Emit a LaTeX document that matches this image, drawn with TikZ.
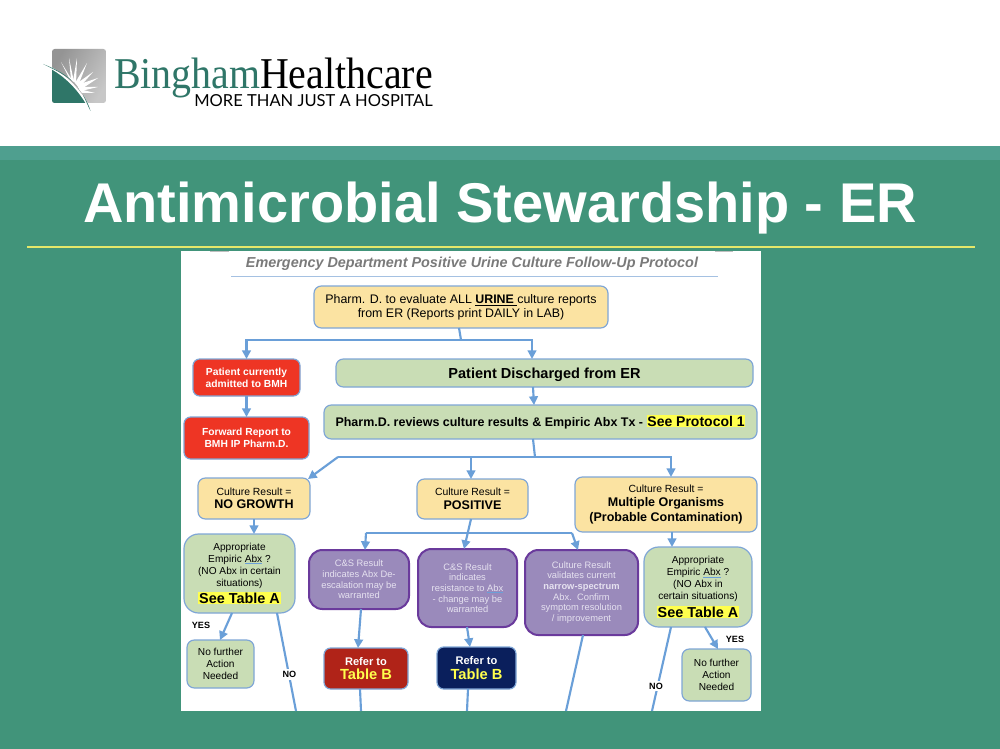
\documentclass[tikz,border=0pt]{standalone}
\usepackage{fontspec}
\setmainfont{Liberation Sans}
\newfontfamily\logoserif{Liberation Serif}
\newfontfamily\logosans{Lato}
\usetikzlibrary{arrows.meta}
\definecolor{bggreen}{HTML}{41947A}
\definecolor{bandgreen}{HTML}{4F9F8F}
\definecolor{linegold}{HTML}{E4E86A}
\definecolor{lineblue}{HTML}{6A9FD8}
\definecolor{edgeblue}{HTML}{7FA6D6}
\definecolor{tan}{HTML}{FBE3A2}
\definecolor{sage}{HTML}{C9DDB5}
\definecolor{redbox}{HTML}{EE3524}
\definecolor{purplefill}{HTML}{9A8ABB}
\definecolor{purpleedge}{HTML}{6A3A9C}
\definecolor{purpletxt}{HTML}{E6E2F0}
\definecolor{darkred}{HTML}{B02318}
\definecolor{navy}{HTML}{0A1F5C}
\definecolor{hl}{HTML}{FFFF4D}
\definecolor{logoteal}{HTML}{2F7668}
\newlength\ulwidth
\newcommand\fs[1]{\fontsize{#1}{\dimexpr#1pt*12/10\relax}\selectfont}
\newcommand\hlt[1]{{\setlength{\fboxsep}{0.6pt}\colorbox{hl}{#1}}}
\newcommand\blueul[1]{\settowidth{\ulwidth}{#1}\rlap{\textcolor{lineblue}{\rule[-1.6pt]{\ulwidth}{0.8pt}}}#1}
\newcommand\bx[7]{\node[#6,minimum width={(#4-#2)*0.75pt},minimum height={(#5-#3)*0.75pt}] (#1) at ({(#2+#4)/2},{(#3+#5)/2}) {#7};}
\tikzset{
  x=0.75pt,y=-0.75pt,
  boxbase/.style={draw=edgeblue,line width=0.9pt,rounded corners=5.5pt,inner sep=0pt,outer sep=0pt,align=center,text=black},
  tanbox/.style={boxbase,fill=tan},
  sagebox/.style={boxbase,fill=sage},
  sageround/.style={boxbase,fill=sage,rounded corners=11pt,font=\fs{7.6}},
  redb/.style={boxbase,fill=redbox,text=white,font=\fs{7.7}\bfseries,rounded corners=5pt},
  purp/.style={boxbase,fill=purplefill,draw=purpleedge,line width=1.5pt,rounded corners=10pt,text=purpletxt,font=\fontsize{7}{8}\selectfont},
  refbox/.style={boxbase,rounded corners=5pt,text=white,font=\fs{8.3}\bfseries},
  conn/.style={draw=lineblue,line width=1.6pt},
  arr/.style={conn,-{Triangle[length=6.5pt,width=6.5pt]}},
  lab/.style={font=\fs{6.8}\bfseries,text=black,fill=white,inner sep=1.5pt},
}
\begin{document}
\begin{tikzpicture}
\useasboundingbox (0,0) rectangle (1000,749);
% slide background
\fill[white] (0,0) rectangle (1000,146);
\fill[bandgreen] (0,146) rectangle (1000,160);
\fill[bggreen] (0,160) rectangle (1000,749);
\node[anchor=base,text=white,font=\fs{42}\bfseries,inner sep=0pt] (title) at (500,222) {Antimicrobial Stewardship - ER};
\draw[linegold,line width=1.3pt] (27,247) -- (975,247);
% logo
\begin{scope}
\clip[rounded corners=2pt] (52,49) rectangle (106,103);
\shade[left color=black!42,right color=black!22,shading angle=60] (52,49) rectangle (106,103);
\fill[logoteal] (40,60) .. controls (62,72) and (80,88) .. (92,115) -- (40,115) -- cycle;
\end{scope}
\foreach \ex/\ey/\ax/\ay/\bx/\by in {61/62/69/78/72/80,69/58/71/80/74/82,77/58/73/81/76/84,87/63/75/83/78/86,93/72/76/84/79/88,98/78/77/85/80/90,98/87/78/87/81/91,95/93/79/89/82/93}
  \fill[white] (\ex,\ey) -- (\ax,\ay) -- (\bx,\by) -- cycle;
\draw[white,line width=1.4pt] (43,64) .. controls (62,72) and (80,88) .. (92,113);
\fill[logoteal] (43,64) .. controls (58,70) and (66,75) .. (72,81) .. controls (66,76) and (58,71) .. cycle;
\fill[logoteal] (83,95) .. controls (87,101) and (89,106) .. (90.5,111) .. controls (88,106) and (86,101) .. cycle;
\node[anchor=base west,inner sep=0pt,font=\logoserif\fs{33},xscale=0.906,transform shape,text=logoteal] (lgone) at (114,89) {Bingham};
\node[anchor=base east,inner sep=0pt,font=\logoserif\fs{33},xscale=0.906,transform shape,text=black] (lgtwo) at (433,89) {Healthcare};
\node[anchor=base east,inner sep=0pt,font=\logosans\fs{12.4}] (lgthree) at (433,107) {MORE THAN JUST A HOSPITAL};
% panel
\fill[white] (181,251) rectangle (761,711);
\fill[black!25] (210,251) rectangle (229,252);
\fill[black!25] (715,251) rectangle (733,252);
\node[font=\fs{10.8}\bfseries\itshape,text=black!52,inner sep=0pt] (head) at (472,263.5) {Emergency Department Positive Urine Culture Follow-Up Protocol};
\draw[edgeblue!70,line width=1pt] (231,276.5) -- (718,276.5);
% boxes
\bx{top}{314}{286}{608}{328}{tanbox,font=\fs{9.3}}{Pharm. D. to evaluate ALL \textbf{\underline{URINE }}culture reports\\[-0.4pt]from ER (Reports print DAILY in LAB)}
\bx{redone}{193}{359}{300}{396}{redb}{Patient currently\\admitted to BMH}
\bx{redtwo}{184}{417}{309}{459}{redb}{Forward Report to\\BMH IP Pharm.D.}
\bx{disch}{336}{359}{753}{387}{sagebox,font=\fs{10.9}\bfseries,text height=7.5pt,text depth=0pt}{Patient Discharged from ER}
\bx{rev}{324}{405}{757}{439}{sagebox,font=\fs{9.35}\bfseries}{Pharm.D. reviews culture results \& Empiric Abx Tx - \hlt{\fs{10.5}See Protocol 1}}
\bx{nogrowth}{198}{478}{310}{519}{tanbox,font=\fs{7.8}}{Culture Result =\\[0.8pt]\fs{9.4}\bfseries NO GROWTH}
\bx{positive}{417}{479}{528}{519}{tanbox,font=\fs{7.8}}{Culture Result =\\[0.8pt]\fs{9.4}\bfseries POSITIVE}
\bx{multi}{575}{477}{757}{532}{tanbox,font=\fs{9.4}}{\fs{7.8}Culture Result =\\[-0.4pt]\bfseries Multiple Organisms\\[-0.4pt]\bfseries (Probable Contamination)}
\bx{applef}{184}{534}{295}{613}{sageround}{Appropriate\\[-0.1pt]Empiric \blueul{Abx} ?\\[-0.1pt](NO Abx in certain\\[-0.1pt]situations)\\[1.5pt]\hlt{\fs{10.8}\bfseries See Table A}}
\bx{csone}{309}{550}{409}{609}{purp}{C\&S Result\\indicates Abx De-\\escalation may be\\warranted}
\bx{cstwo}{418}{549}{517}{627}{purp}{C\&S Result\\indicates\\resistance to \blueul{Abx}\\- change may be\\warranted}
\bx{valid}{525}{550}{638}{635}{purp}{Culture Result\\validates current\\\textbf{narrow-spectrum}\\Abx.\ \ Confirm\\symptom resolution\\/ improvement}
\bx{apprt}{644}{547}{752}{627}{sageround}{Appropriate\\[0pt]Empiric \blueul{Abx} ?\\[0pt](NO Abx in\\[0pt]certain situations)\\[2pt]\hlt{\fs{10.8}\bfseries See Table A}}
\bx{nflef}{187}{640}{254}{688}{sagebox,font=\fs{7.6}}{No further\\Action\\Needed}
\bx{nfrt}{682}{649}{751}{701}{sagebox,font=\fs{7.6}}{No further\\Action\\Needed}
\bx{refone}{324}{648}{408}{689}{refbox,fill=darkred}{Refer to\\[1.2pt]\fs{11}\textcolor{hl}{Table B}}
\bx{reftwo}{437}{647}{516}{689}{refbox,fill=navy}{Refer to\\[1.2pt]\fs{11}\textcolor{hl}{Table B}}
% junctions and free ends
\coordinate (topout) at (459,328);
\coordinate (j1) at (461,340);
\coordinate (dischin) at (532,359);
\coordinate (dischout) at (533,387);
\coordinate (revin) at (534,405);
\coordinate (revout) at (533,439);
\coordinate (j2) at (535,457);
\coordinate (j2l) at (338,457);
\coordinate (ngin) at (308,479);
\coordinate (posin) at (471,479);
\coordinate (multin) at (671,477);
\coordinate (posout) at (471,519);
\coordinate (j3l) at (366,533);
\coordinate (j3r) at (572,533);
\coordinate (cs1in) at (365,550);
\coordinate (cs2in) at (464,549);
\coordinate (valin) at (578,550);
\coordinate (cs1out) at (361,609);
\coordinate (ref1in) at (358,648);
\coordinate (cs2out) at (467,627);
\coordinate (ref2in) at (470,647);
\coordinate (ref1out) at (360,689);
\coordinate (e1) at (361,711);
\coordinate (ref2out) at (468,689);
\coordinate (e2) at (467,711);
\coordinate (valout) at (583,635);
\coordinate (e3) at (566,711);
\coordinate (alyes) at (232,613);
\coordinate (nflin) at (220,640);
\coordinate (alno) at (277,613);
\coordinate (e4) at (296,711);
\coordinate (aryes) at (705,627);
\coordinate (nfrin) at (718,649);
\coordinate (arno) at (671,627);
\coordinate (e5) at (652,711);
\coordinate (ngout) at (254,519);
\coordinate (alin) at (254,534);
\coordinate (multout) at (672,532);
\coordinate (arin) at (672,547);
% connectors
\draw[conn] (topout) -- (j1);
\draw[arr] (j1) -| (redone.north);
\draw[arr] (j1) -| (dischin);
\draw[arr] (redone) -- (redtwo);
\draw[arr] (dischout) -- (revin);
\draw[conn] (revout) -- (j2);
\draw[conn] (j2) -- (j2l);
\draw[arr] (j2l) -- (ngin);
\draw[arr] (posin |- j2) -- (posin);
\draw[arr] (j2) -| (multin);
\draw[arr] (ngout) -- (alin);
\draw[arr] (posout) -- (cs2in);
\draw[conn] (j3l) -- (j3r);
\draw[arr] (j3l) -- (cs1in);
\draw[arr] (j3r) -- (valin);
\draw[arr] (cs1out) -- (ref1in);
\draw[arr] (cs2out) -- (ref2in);
\draw[conn] (ref1out) -- (e1);
\draw[conn] (ref2out) -- (e2);
\draw[conn] (valout) -- (e3);
\draw[arr] (multout) -- (arin);
\draw[arr] (alyes) -- (nflin);
\draw[conn] (alno) -- (e4);
\draw[arr] (aryes) -- (nfrin);
\draw[conn] (arno) -- (e5);
% labels
\node[lab] (yes1) at (201,625) {YES};
\node[lab] (no1) at (289.5,674.5) {NO};
\node[lab] (yes2) at (735,639.5) {YES};
\node[lab] (no2) at (656,686) {NO};
\end{tikzpicture}
\end{document}
